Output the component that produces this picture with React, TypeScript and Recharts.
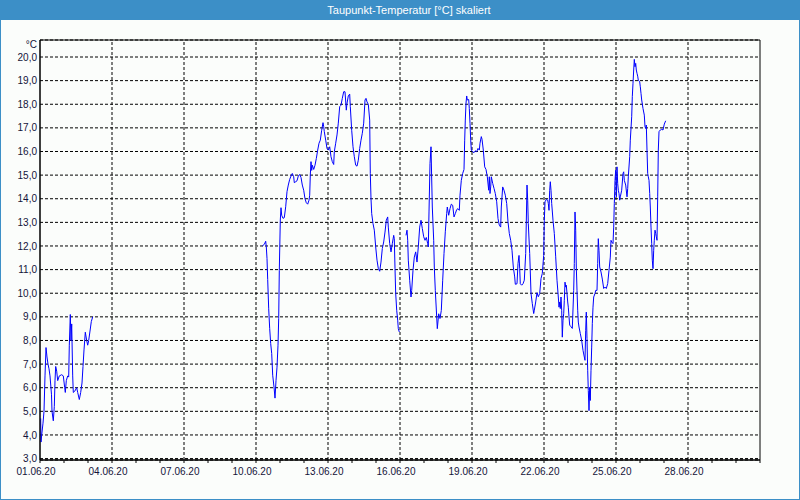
import { LineChart, Line, XAxis, YAxis, CartesianGrid, ReferenceLine, ReferenceArea } from 'recharts';

// dew point readings, [hours since 01.06.20 00:00, °C]
const firstRun: [number, number][] = [
  [0.7, 4.7], [1, 3.7], [1.7, 4.0], [3, 4.5], [4, 5.0], [5, 6.5], [6, 7.7], [7, 7.3], [8, 7.0],
  [9, 6.8], [10, 6.5], [11.5, 5.7], [12, 5.0], [13.3, 4.6], [14.3, 5.2], [15, 6.3], [15.7, 6.9],
  [16.7, 6.7], [17.7, 6.3], [19.3, 6.5], [21.7, 6.55], [23.3, 6.5], [24.7, 6.0], [25.3, 5.8],
  [26.3, 6.3], [27.7, 6.5], [28.7, 6.45], [29.3, 7.8], [30.3, 9.1], [31, 8.0], [31.7, 8.7],
  [32.7, 6.5], [33.3, 5.8], [34.7, 5.85], [36.7, 6.0], [37.7, 5.8], [39.3, 5.5], [40.7, 5.8],
  [42, 6.2], [43, 6.9], [44, 7.6], [45.3, 8.35], [46.7, 8.0], [47.7, 7.8], [48.7, 8.0], [50, 8.4],
  [51.3, 8.8], [52.7, 9.0],
];

const secondRun: [number, number][] = [
  [222.3, 12.0], [224.3, 12.07], [225.7, 12.2], [226.3, 11.96], [227, 11.47], [227.7, 10.58],
  [228.7, 9.34], [229.7, 8.5], [230.7, 7.87], [231.7, 7.45], [232.7, 6.53], [234, 6.03], [235, 5.56],
  [236, 6.3], [237, 6.87], [238, 7.8], [238.7, 8.93], [239.3, 10.97], [240.3, 13.1], [241, 13.62],
  [241.7, 13.3], [243, 13.17], [244.3, 13.2], [245.7, 13.66], [247, 14.3], [248.3, 14.58],
  [249.7, 14.82], [251, 14.96], [252.3, 15.07], [253.7, 14.93], [254.3, 14.68], [255.7, 14.72],
  [257, 14.76], [258.3, 14.96], [259.7, 15.03], [261, 14.9], [262.3, 14.58], [263.7, 14.36],
  [265, 14.0], [266.3, 13.83], [267.7, 13.77], [269, 13.94], [269.7, 14.15], [270.3, 15.0],
  [271, 15.57], [271.7, 15.2], [272.3, 15.42], [273.7, 15.24], [275, 15.42], [276.3, 15.7],
  [277.7, 16.06], [279, 16.35], [280.3, 16.48], [281.7, 16.9], [283, 17.22], [283.7, 17.05],
  [284.3, 16.84], [285.7, 16.48], [287, 16.13], [288.3, 16.06], [289.7, 16.2], [291, 15.78],
  [292.3, 15.57], [293.7, 15.45], [294.3, 15.99], [295.7, 16.35], [297, 16.7], [298.3, 17.2],
  [299.7, 17.9], [301, 17.96], [302.3, 18.25], [303.7, 18.53], [305, 18.53], [306.3, 17.75],
  [307, 18.04], [308.3, 18.35], [309.7, 18.43], [310.3, 17.9], [311.7, 16.9], [313, 16.2],
  [314.3, 15.78], [315.7, 15.42], [317, 15.38], [318.3, 15.63], [319.7, 16.13], [321, 16.48],
  [322.3, 16.77], [323.7, 17.2], [325, 18.18], [326, 18.25], [327, 18.1], [328.3, 18.0],
  [329.7, 17.33], [330.3, 15.07], [331, 14.0], [331.7, 13.37], [333, 12.95], [334.3, 12.67],
  [335.7, 11.96], [337, 11.4], [338.3, 11.05], [339.7, 10.93], [341, 11.32], [342.3, 11.89],
  [343.7, 12.17], [345, 12.59], [346.3, 13.09], [347.7, 13.23], [348.3, 12.8], [349.7, 12.1],
  [351, 11.75], [352.3, 12.1], [353.7, 12.45], [354.3, 12.31], [355, 11.05], [355.7, 9.99],
  [356.7, 9.28], [357.7, 8.86], [358.3, 8.5], [359.3, 8.36],
];

const thirdRun: [number, number][] = [
  [366, 12.45], [367, 12.67], [367.7, 12.24], [368.3, 11.4], [369.7, 10.55], [371, 9.84],
  [371.7, 10.12], [373, 10.97], [374.3, 11.53], [375.7, 11.75], [377, 11.32], [378.3, 11.96],
  [379.7, 12.8], [381, 13.09], [382.3, 12.74], [383.7, 12.39], [385, 12.24], [386.3, 12.36],
  [387.7, 12.1], [388.3, 11.96], [389, 13.44], [390, 15.49], [391, 16.2], [392.3, 13.65],
  [393.7, 12.24], [394.3, 11.11], [395.3, 10.12], [396.7, 9.0], [397.3, 8.5], [398.7, 9.13],
  [400, 8.93], [401.3, 9.27], [402.7, 10.55], [404, 11.68], [405.3, 12.6], [406.7, 13.38],
  [407.3, 13.65], [408.7, 13.3], [410, 13.58], [411.3, 13.77], [412.7, 13.72], [414, 13.23],
  [415.3, 13.37], [416.7, 13.54], [418, 13.58], [419.3, 13.51], [420, 14.15], [421.3, 14.78],
  [422.7, 15.07], [424, 15.24], [424.7, 16.48], [425.3, 17.33], [426, 18.04], [426.7, 18.35],
  [427.3, 18.18], [428.7, 18.2], [429.3, 17.82], [430, 17.19], [430.7, 16.48], [431.3, 16.06],
  [432.7, 15.99], [434, 15.95], [435.3, 16.03], [436.7, 15.99], [438, 16.13], [439.3, 16.06],
  [440, 16.35], [441.3, 16.63], [442, 16.52], [443.3, 16.06], [444.7, 15.35], [446, 15.24],
  [447.3, 14.93], [448.7, 14.36], [449.3, 14.93], [450, 14.22], [450.7, 14.5], [451.3, 14.93],
  [452.7, 14.65], [454, 14.44], [455.3, 14.22], [456.7, 13.87], [458, 13.16], [459.3, 12.88],
  [460.7, 12.8], [461.3, 13.65], [462.7, 14.5], [464, 14.36], [465.3, 14.15], [466.7, 13.8],
  [468, 13.02], [469.3, 12.53], [470.7, 12.24], [472, 11.82], [473.3, 11.11], [474.7, 10.69],
  [475.3, 10.38], [477, 10.4], [478, 11.26], [479, 11.6], [479.7, 11.04], [480.3, 10.4],
  [481.7, 10.34], [483, 10.4], [484.3, 10.55], [485.7, 11.68], [487, 14.58], [487.7, 13.94],
  [488.3, 12.95], [489.7, 11.68], [491, 9.99], [492.3, 9.56], [493.7, 9.14], [494.3, 9.28],
  [495.7, 9.63], [497, 10.02], [498.3, 9.85], [499.7, 9.99], [501, 10.62], [502.3, 10.84],
  [503.7, 11.6], [504.3, 13.09], [505, 13.87], [506.3, 13.97], [507.7, 13.94], [508.3, 13.8],
  [509, 13.51], [509.7, 14.36], [510.3, 14.72], [511, 14.36], [511.7, 13.8], [513, 13.09],
  [514.3, 12.53], [515.7, 11.54], [517, 10.55], [518.3, 9.84], [519, 9.41], [519.7, 9.63],
  [520.3, 9.35], [521, 9.84], [521.7, 9.28], [522.3, 8.14], [523, 8.86], [523.7, 9.13],
  [524.3, 9.7], [525, 10.47], [525.7, 10.26], [526.3, 10.34], [527, 9.99], [527.7, 9.63],
  [528.3, 9.41], [529, 9.0], [529.7, 8.65], [531, 8.58], [532.3, 8.51], [533.7, 10.12],
  [534.3, 11.26], [535, 13.44], [535.7, 12.67], [536.3, 11.11], [537, 10.12], [537.7, 9.28],
  [538.3, 8.78], [539, 8.57], [540.3, 8.29], [541.7, 8.0], [543, 7.58], [544.3, 7.3], [545, 7.16],
  [545.7, 8.43], [546.3, 9.2], [547, 8.08], [547.7, 6.74], [548.3, 5.88], [549, 5.03], [549.7, 6.02],
  [550.3, 5.46], [551, 6.74], [551.7, 7.72], [552.3, 8.71], [553, 9.41], [553.7, 9.84], [555, 9.99],
  [555.7, 10.12], [557, 10.12], [557.7, 11.26], [558.3, 12.31], [559, 11.8], [559.7, 11.11],
  [561, 10.9], [562.3, 10.6], [563.7, 10.2], [565, 10.26], [566.3, 10.2], [567.7, 10.41],
  [569, 10.97], [570.3, 11.53], [571, 12.24], [571.7, 12.17], [573, 12.1], [573.7, 12.8],
  [574.3, 13.8], [575, 14.78], [575.7, 15.21], [576.3, 14.08], [577, 15.35], [577.7, 14.65],
  [578.3, 14.36], [579, 14.22], [579.7, 13.94], [580.3, 14.08], [581.7, 14.36], [583, 15.07],
  [583.7, 15.14], [584.3, 14.78], [585.7, 14.58], [587, 14.08], [587.7, 14.43], [588.3, 14.93],
  [589.7, 15.78], [590.3, 16.48], [591, 16.98], [591.7, 17.47], [592.3, 18.32], [593, 18.89],
  [593.7, 19.45], [594.3, 19.9], [595, 19.59], [595.7, 19.73], [596.3, 19.45], [597, 19.31],
  [597.7, 19.19], [598.3, 19.02], [599.7, 18.95], [600.3, 18.74], [601, 18.46], [601.7, 18.18],
  [603, 17.82], [604.3, 17.54], [605, 17.05], [605.7, 16.98], [606.3, 17.12], [607, 16.06],
  [607.7, 15.07], [608.3, 14.93], [609, 14.78], [609.7, 14.22], [610.3, 13.65], [611, 12.8],
  [611.7, 12.1], [612.3, 11.4], [613, 11.04], [613.7, 11.82], [614.3, 12.24], [615, 12.67],
  [615.7, 12.53], [616.3, 12.39], [617, 12.24], [617.7, 14.08], [618.3, 16.06], [619, 16.84],
  [620.3, 16.91], [621.7, 16.94], [623, 16.91], [624.3, 17.16], [625.7, 17.3],
];

const dateLabels = ['01.06.20', '04.06.20', '07.06.20', '10.06.20', '13.06.20', '16.06.20', '19.06.20', '22.06.20', '25.06.20', '28.06.20'];
const tempTicks = [3, 4, 5, 6, 7, 8, 9, 10, 11, 12, 13, 14, 15, 16, 17, 18, 19, 20];
const yMin = 2.94;
const yMax = 20.72;
const hourEnd = 720;

const toRows = (run: [number, number][]) => run.map(([h, v]) => ({ h, v }));
const data = [
  ...toRows(firstRun),
  { h: 140, v: null },
  ...toRows(secondRun),
  { h: 362, v: null },
  ...toRows(thirdRun),
];

const dayTicks = Array.from({ length: 31 }, (_, i) => i * 24);
const labelHours = dateLabels.map((_, i) => i * 72);

const textColor = '#14143a';
const font = '"Liberation Sans", Arial, sans-serif';
const dash = '3 2';

export default function App() {
  return (
    <div style={{ position: 'absolute', left: 0, top: 0, width: 800, height: 500, background: '#fbfdfb', fontFamily: font }}>
      <LineChart width={800} height={500} data={data} margin={{ top: 40, right: 40, bottom: 10, left: 0 }}>
        <CartesianGrid vertical={false} stroke="#000" strokeDasharray={dash} />
        {labelHours.slice(1).map((h) => (
          <ReferenceLine key={h} x={h} stroke="#000" strokeDasharray={dash} />
        ))}
        <ReferenceArea x1={0} x2={hourEnd} y1={yMin} y2={yMax} fill="none" stroke="#000" strokeWidth={1} />
        <XAxis
          dataKey="h"
          type="number"
          domain={[0, hourEnd]}
          ticks={dayTicks}
          allowDataOverflow
          height={30}
          tickSize={3}
          tickMargin={5}
          stroke="#000"
          tick={{ fontSize: 10, fill: textColor, dx: -4 }}
          tickFormatter={(h: number) => {
            const i = labelHours.indexOf(h);
            return i >= 0 ? dateLabels[i] : '';
          }}
        />
        <YAxis
          type="number"
          domain={[yMin, yMax]}
          ticks={tempTicks}
          allowDataOverflow
          width={40}
          tickSize={0}
          tickMargin={3}
          stroke="#000"
          tick={{ fontSize: 10, fill: textColor }}
          tickFormatter={(v: number) => v.toFixed(1).replace('.', ',')}
        />
        <Line
          type="linear"
          dataKey="v"
          stroke="#0000ff"
          strokeWidth={1}
          dot={false}
          connectNulls={false}
          isAnimationActive={false}
        />
      </LineChart>
      <div style={{ position: 'absolute', left: 0, top: 39, width: 37, textAlign: 'right', fontSize: 10, lineHeight: '12px', color: textColor }}>
        °C
      </div>
      <div style={{ position: 'absolute', left: 0, top: 0, width: 800, height: 20, background: '#3c8fc7', color: '#fff', fontSize: 11, lineHeight: '20px', textAlign: 'center', paddingLeft: 18, boxSizing: 'border-box' }}>
        Taupunkt-Temperatur [°C] skaliert
      </div>
      <div style={{ position: 'absolute', left: 0, top: 0, width: 800, height: 500, boxSizing: 'border-box', border: '1px solid #3c8fc7', pointerEvents: 'none' }} />
    </div>
  );
}
